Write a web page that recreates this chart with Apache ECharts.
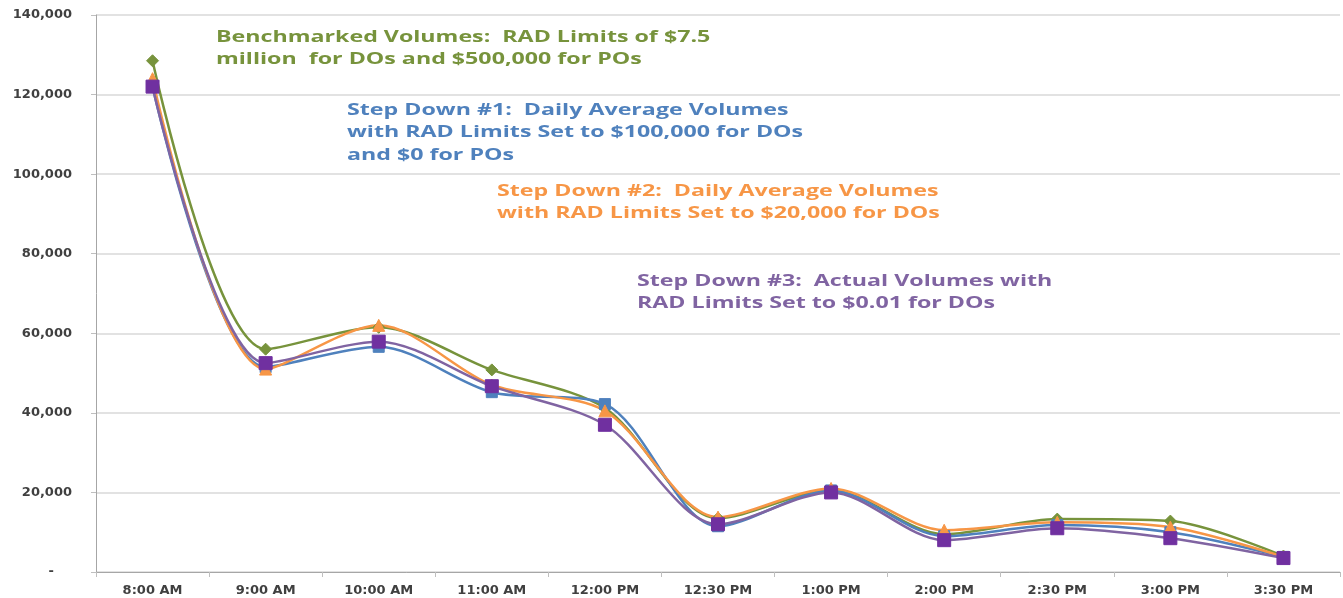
<!DOCTYPE html>
<html>
<head>
<meta charset="utf-8">
<script src="https://cdn.jsdelivr.net/npm/echarts@6/dist/echarts.min.js"></script>
<style>
  html, body { margin: 0; padding: 0; background: #fff; }
  #chart { width: 1343px; height: 598px; }
</style>
</head>
<body>
<div id="chart"></div>
<script>
const categories = ["8:00 AM", "9:00 AM", "10:00 AM", "11:00 AM", "12:00 PM", "12:30 PM",
  "1:00 PM", "2:00 PM", "2:30 PM", "3:00 PM", "3:30 PM"];

const benchmark = [128500, 56000, 61500, 50800, 41200, 13500, 20500, 9500, 13300, 12800, 4000];
const stepDown1 = [122000, 51500, 56600, 45200, 42200, 11500, 20500, 9000, 11800, 10000, 3800];
const stepDown2 = [124000, 51000, 62000, 47000, 40500, 13800, 21000, 10500, 12500, 11300, 3800];
const stepDown3 = [122000, 52500, 57900, 46700, 37000, 12000, 20000, 8000, 11000, 8500, 3500];

const noteFont = '"Open Sans", "Liberation Sans", sans-serif';
const axisFont = '"DejaVu Sans", Verdana, sans-serif';

const chart = echarts.init(document.getElementById("chart"), null, { renderer: "canvas" });

function lineSeries(name, data, color, symbol, size, markerColor) {
  return {
    type: "line",
    name: name,
    data: data,
    smooth: 0.3,
    symbol: symbol,
    symbolSize: size,
    lineStyle: { color: color, width: 2.5 },
    itemStyle: { color: markerColor || color, borderColor: markerColor || color },
    animation: false,
  };
}

// annotation text, drawn as graphic elements
function note(lines, x, y, color) {
  return lines.map((t, i) => ({
    type: "text",
    left: x,
    top: y + i * 22.5,
    scaleX: 1.45,
    style: {
      text: t,
      fill: color,
      font: "bold 16px " + noteFont,
    },
    z: 100,
  }));
}

const option = {
  animation: false,
  grid: { left: 96, right: 3, top: 15, bottom: 26, containLabel: false },
  xAxis: {
    type: "category",
    data: categories,
    boundaryGap: true,
    axisLine: { lineStyle: { color: "#a6a6a6", width: 1 } },
    axisTick: { show: true, length: 5, lineStyle: { color: "#bfbfbf" } },
    axisLabel: {
      color: "#404040",
      fontWeight: "bold",
      fontSize: 13,
      fontFamily: axisFont,
      margin: 12,
      interval: 0,
    },
  },
  yAxis: {
    type: "value",
    min: 0,
    max: 140000,
    interval: 20000,
    axisLine: { show: true, lineStyle: { color: "#a6a6a6", width: 1 } },
    axisTick: { show: true, length: 5, lineStyle: { color: "#bfbfbf" } },
    splitLine: { lineStyle: { color: "#d9d9d9", width: 1.5 } },
    axisLabel: {
      color: "#404040",
      fontWeight: "bold",
      fontSize: 13,
      fontFamily: axisFont,
      margin: 24,
      formatter: (v) => (v === 0 ? "-    " : v.toLocaleString("en-US")),
    },
  },
  series: [
    lineSeries("Benchmark", benchmark, "#77933c", "diamond", 12),
    lineSeries("Step Down #1", stepDown1, "#4f81bd", "rect", 11),
    lineSeries("Step Down #2", stepDown2, "#f79646", "triangle", 12),
    lineSeries("Step Down #3", stepDown3, "#8064a2", "rect", 13, "#7030a0"),
  ],
  graphic: [
    ...note(["Benchmarked Volumes:  RAD Limits of $7.5", "million  for DOs and $500,000 for POs"], 216, 29, "#77933c"),
    ...note(["Step Down #1:  Daily Average Volumes", "with RAD Limits Set to $100,000 for DOs", "and $0 for POs"], 347, 102, "#4f81bd"),
    ...note(["Step Down #2:  Daily Average Volumes", "with RAD Limits Set to $20,000 for DOs"], 497, 183, "#f79646"),
    ...note(["Step Down #3:  Actual Volumes with", "RAD Limits Set to $0.01 for DOs"], 637, 273, "#8064a2"),
  ],
};

chart.setOption(option);
</script>
</body>
</html>
